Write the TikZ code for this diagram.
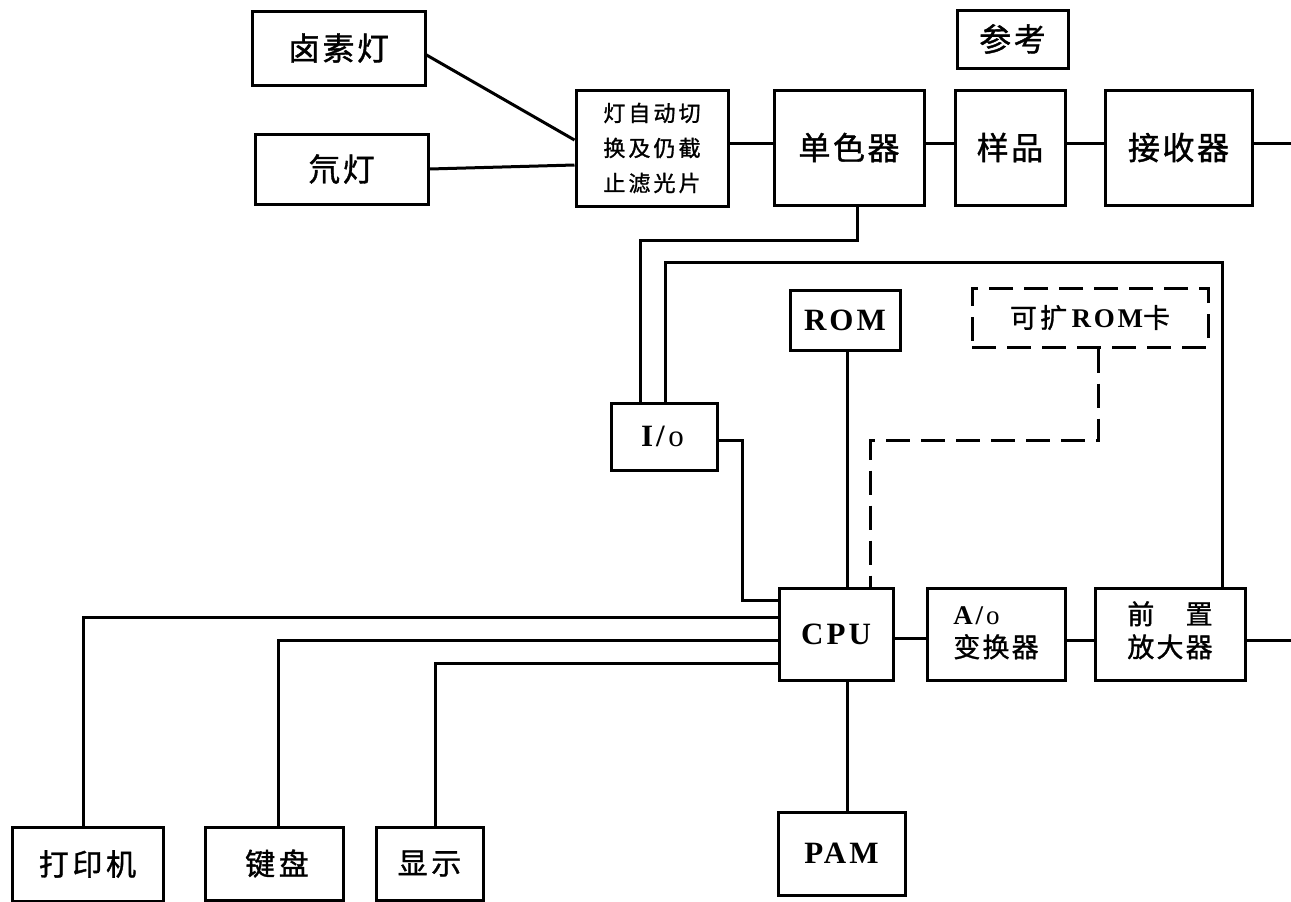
\documentclass[tikz,border=0pt]{standalone}
\usepackage{fontspec}
\setmainfont{Liberation Serif}
\newfontfamily\cjk{Noto Sans CJK SC}[LetterSpace=8,FakeBold=1.2]
\newfontfamily\cjkw{Noto Sans CJK SC}[LetterSpace=12,FakeBold=1.2]
\newfontfamily\cjks{Noto Sans CJK SC}[LetterSpace=14,FakeBold=1.2]
\newfontfamily\lat{Liberation Serif}[LetterSpace=10]
\begin{document}
\begin{tikzpicture}[x=1pt,y=-1pt,
  box/.style={draw, line width=3pt, inner sep=0pt, align=center},
  wire/.style={line width=3pt},
  dwire/.style={line width=3pt, dash pattern=on 24pt off 11pt},
  big/.style={font=\cjk\fontsize{32}{36}\selectfont},
  mid/.style={font=\cjk\fontsize{27}{33}\selectfont},
  low/.style={font=\cjkw\fontsize{30}{34}\selectfont},
  small/.style={font=\cjks\fontsize{22}{35}\selectfont},
  latb/.style={font=\lat\bfseries\fontsize{31}{34}\selectfont}]
\useasboundingbox (0,0) rectangle (1291,902);
% top row
\node[box,big,minimum width=173pt,minimum height=74pt] (halogen) at (338.5,48) {卤素灯};
\node[box,big,minimum width=173pt,minimum height=70pt] (neon) at (341.5,169) {氘灯};
\node[box,small,minimum width=152pt,minimum height=116pt] (switch) at (652,148) {灯自动切\\换及仍截\\止滤光片};
\node[box,big,minimum width=150pt,minimum height=115pt] (mono) at (849,147.5) {单色器};
\node[box,big,minimum width=110pt,minimum height=115pt] (sample) at (1010,147.5) {样品};
\node[box,big,minimum width=147pt,minimum height=115pt] (recv) at (1178.5,147.5) {接收器};
\node[box,big,minimum width=111pt,minimum height=58pt] (ref) at (1012.5,39) {参考};
% middle
\node[box,latb,minimum width=110pt,minimum height=60pt] (rom) at (845,320) {ROM};
\node[box,dwire,font=\fontsize{27}{30}\selectfont,minimum width=236pt,minimum height=59pt] (xrom) at (1090,317.5) {{\cjkw 可扩}\,{\lat\bfseries ROM}{\cjk 卡}};
\node[box,latb,minimum width=106pt,minimum height=67pt] (io) at (664,436.5) {I/\textmd{o}};
\node[box,latb,minimum width=114pt,minimum height=92pt] (cpu) at (836,634) {CPU};
\node[box,mid,minimum width=138pt,minimum height=92pt] (ad) at (996,634) {\begin{tabular}{@{}l@{}}{\lat\bfseries A/\textmd{o}}\\变换器\end{tabular}};
\node[box,mid,minimum width=150pt,minimum height=92pt] (pre) at (1170,634) {\begin{tabular}{@{}l@{}}前\hfill 置\\放大器\end{tabular}};
% bottom
\node[box,latb,minimum width=127pt,minimum height=83pt] (pam) at (841.5,853.5) {PAM};
\node[box,low,minimum width=151pt,minimum height=74pt] (printer) at (87.5,864) {打印机};
\node[box,low,minimum width=138pt,minimum height=73pt] (kbd) at (274,863.5) {\hspace*{6pt}键盘};
\node[box,low,minimum width=107pt,minimum height=73pt] (disp) at (429.5,863.5) {显示};
\coordinate (out1) at (1291,143);
\coordinate (out2) at (1291,640);
% connectors
\draw[wire] (halogen.east |- 0,55) -- (switch.west |- 0,140);
\draw[wire] (neon.east) -- (switch.west |- 0,165);
\draw[wire] (switch.east |- 0,143) -- (mono.west |- 0,143);
\draw[wire] (mono.east |- 0,143) -- (sample.west |- 0,143);
\draw[wire] (sample.east |- 0,143) -- (recv.west |- 0,143);
\draw[wire] (recv.east |- 0,143) -- (out1);
\draw[wire] (mono.south -| 857,0) |- (640,240) -- (io.north -| 640,0);
\draw[wire] (io.north -| 665,0) |- (1222,262) -- (pre.north -| 1222,0);
\draw[wire] (rom.south -| 847,0) -- (cpu.north -| 847,0);
\draw[dwire] (xrom.south -| 1098,0) |- (870,440) -- (cpu.north -| 870,0);
\draw[wire] (io.east |- 0,440) -| (742,600) -- (cpu.west |- 0,600);
\draw[wire] (cpu.west |- 0,617) -| (printer.north -| 83,0);
\draw[wire] (cpu.west |- 0,640) -| (kbd.north -| 278,0);
\draw[wire] (cpu.west |- 0,663) -| (disp.north -| 435,0);
\draw[wire] (cpu.east |- 0,638) -- (ad.west |- 0,638);
\draw[wire] (ad.east |- 0,640) -- (pre.west |- 0,640);
\draw[wire] (pre.east |- 0,640) -- (out2);
\draw[wire] (cpu.south -| 847,0) -- (pam.north -| 847,0);
\end{tikzpicture}
\end{document}
